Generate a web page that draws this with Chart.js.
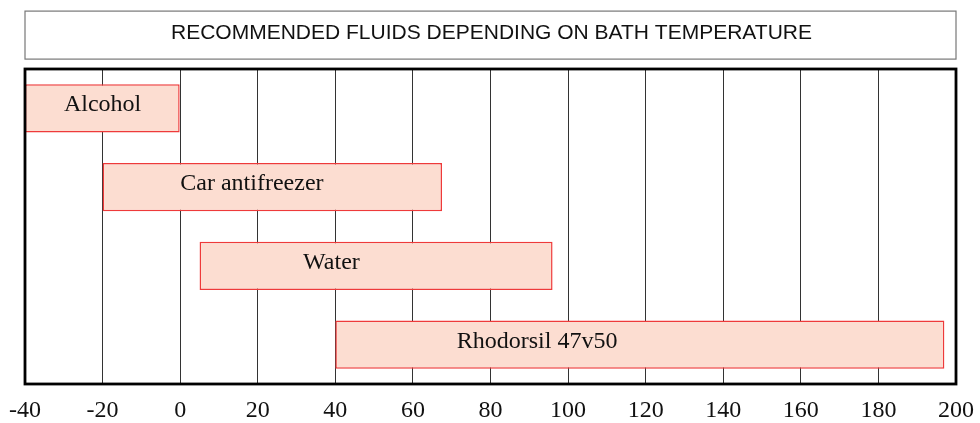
<!DOCTYPE html>
<html>
<head>
<meta charset="utf-8">
<script src="https://cdn.jsdelivr.net/npm/chart.js@4/dist/chart.umd.min.js"></script>
<style>
  html, body { margin: 0; padding: 0; background: #fff; }
  #wrap { width: 980px; height: 423px; }
</style>
</head>
<body>
<div id="wrap"><canvas id="fluidChart"></canvas></div>
<script>
const titleText = "RECOMMENDED FLUIDS DEPENDING ON BATH TEMPERATURE";
const fluids = ["Alcohol", "Car antifreezer", "Water", "Rhodorsil 47v50"];
const tempFrom = [-40, -20, 5, 40];
const tempTo = [0, 67.5, 96, 197];
// where each name sits along the temperature axis
const labelAt = [-20, 18.5, 39, 92];
const xMin = -40, xMax = 200, xStep = 20;

// box round the title + frame round the plot
const framePlugin = {
    id: "frame",
    afterDraw(chart) {
        const ctx = chart.ctx;
        const a = chart.chartArea;
        const tb = chart.titleBlock;
        ctx.save();
        const tc = tb.top + 20 + 12.6;
        ctx.strokeStyle = "#777";
        ctx.lineWidth = 1.2;
        ctx.strokeRect(a.left, tc - 21.5, a.right - a.left, 48);
        ctx.strokeStyle = "#000";
        ctx.lineWidth = 2.8;
        ctx.strokeRect(a.left, a.top, a.right - a.left, a.bottom - a.top);
        ctx.restore();
    }
};

const barLabels = {
    id: "barLabels",
    afterDatasetsDraw(chart) {
        const ctx = chart.ctx;
        const meta = chart.getDatasetMeta(0);
        const xs = chart.scales.x;
        ctx.save();
        ctx.font = "24px 'Liberation Serif', 'DejaVu Serif', serif";
        ctx.fillStyle = "#111";
        ctx.textAlign = "center";
        ctx.textBaseline = "alphabetic";
        meta.data.forEach((bar, i) => {
            ctx.fillText(fluids[i], xs.getPixelForValue(labelAt[i]), bar.y + 3);
        });
        ctx.restore();
    }
};

new Chart(document.getElementById("fluidChart"), {
    type: "bar",
    data: {
        labels: fluids,
        datasets: [{
            data: fluids.map((f, i) => [tempFrom[i], tempTo[i]]),
            backgroundColor: "#fcddd1",
            borderColor: "#ee3a3a",
            borderWidth: 1.5,
            borderSkipped: false,
            categoryPercentage: 1,
            barPercentage: 0.61
        }]
    },
    options: {
        indexAxis: "y",
        responsive: true,
        maintainAspectRatio: false,
        animation: false,
        layout: { padding: { left: 25, right: 22, top: 0, bottom: 0 } },
        plugins: {
            legend: { display: false },
            tooltip: { enabled: false },
            title: {
                display: true,
                text: titleText,
                color: "#111",
                font: { family: "'Liberation Sans', Arial, sans-serif", size: 21, weight: "normal" },
                padding: { top: 21, bottom: 22.8 }
            }
        },
        scales: {
            x: {
                type: "linear",
                min: xMin,
                max: xMax,
                afterFit(scale) { scale.height = 39; },
                ticks: {
                    stepSize: xStep,
                    maxRotation: 0,
                    color: "#111",
                    padding: 6,
                    font: { family: "'Liberation Serif', 'DejaVu Serif', serif", size: 24, lineHeight: 1.7 }
                },
                grid: { color: "#333", lineWidth: 1, drawTicks: false },
                border: { display: false }
            },
            y: {
                display: false,
                grid: { display: false }
            }
        }
    },
    plugins: [framePlugin, barLabels]
});
</script>
</body>
</html>
